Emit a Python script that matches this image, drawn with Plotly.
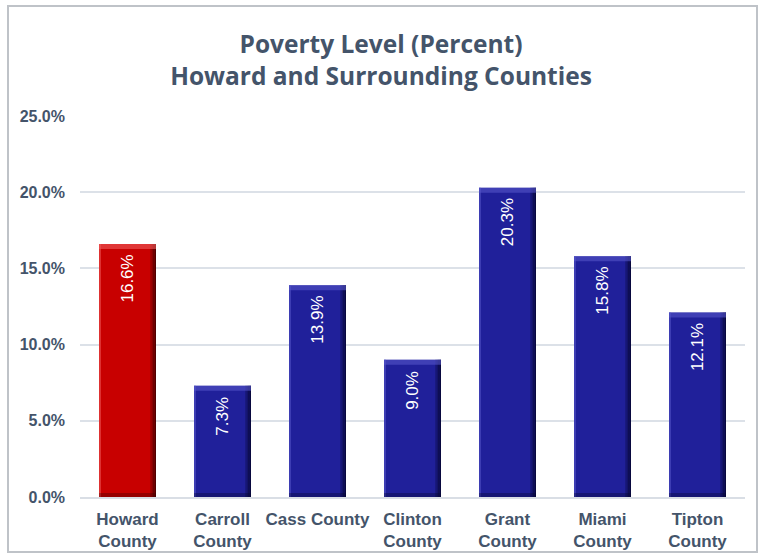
import plotly.graph_objects as go

counties = ["Howard<br>County", "Carroll<br>County", "Cass County", "Clinton<br>County",
            "Grant<br>County", "Miami<br>County", "Tipton<br>County"]
poverty = [16.6, 7.3, 13.9, 9.0, 20.3, 15.8, 12.1]
bar_colors = ["#C80000", "#20209A", "#20209A", "#20209A", "#20209A", "#20209A", "#20209A"]
tick_vals = [0, 5, 10, 15, 20, 25]
tick_text = ["0.0%", "5.0%", "10.0%", "15.0%", "20.0%", "25.0%"]

W, H = 762, 556
ML, MR, MT, MB = 80, 17, 116, 59
plot_w, plot_h = W - ML - MR, H - MT - MB
BAR_W = 0.6
px_x = 7 / plot_w          # one pixel in category units
px_y = 25 / plot_h         # one pixel in percent units

fig = go.Figure()
fig.add_trace(go.Bar(
    x=list(range(len(counties))), y=poverty,
    marker=dict(color=bar_colors, line=dict(width=0)),
    width=BAR_W,
    hoverinfo="skip",
))

# bevelled edges on every bar
for i, v in enumerate(poverty):
    red = i == 0
    dark = "#3A0000" if red else "#05052E"
    light = "#F05A5A" if red else "#5555C8"
    x0, x1 = i - BAR_W / 2, i + BAR_W / 2
    # right edge shading, darkening outward
    for k, op in enumerate([0.25, 0.45, 0.65, 0.85]):
        fig.add_shape(type="rect", xref="x", yref="y",
                      x0=x1 - (4 - k) * 1.5 * px_x, x1=x1 - (3 - k) * 1.5 * px_x,
                      y0=0, y1=v, fillcolor=dark, opacity=op, line_width=0, layer="above")
    # left edge highlight
    fig.add_shape(type="rect", xref="x", yref="y", x0=x0, x1=x0 + 2 * px_x, y0=0, y1=v,
                  fillcolor=light, opacity=0.55, line_width=0, layer="above")
    # top bevel
    fig.add_shape(type="rect", xref="x", yref="y", x0=x0, x1=x1, y0=v - 5 * px_y, y1=v,
                  fillcolor=light, opacity=0.6, line_width=0, layer="above")
    # bottom bevel
    fig.add_shape(type="rect", xref="x", yref="y", x0=x0, x1=x1, y0=0, y1=4 * px_y,
                  fillcolor=dark, opacity=0.35, line_width=0, layer="above")
    # value label
    fig.add_annotation(x=i, y=v, xref="x", yref="y", text=f"{v:.1f}%",
                       showarrow=False, textangle=-90, yanchor="top", xanchor="center",
                       yshift=-9,
                       font=dict(family="Liberation Sans, Arial", size=17, color="white"))

# outer frame
fig.add_shape(type="rect", xref="paper", yref="paper",
              x0=-72 / plot_w, x1=1 + 12 / plot_w, y0=-55 / plot_h, y1=1 + 110 / plot_h,
              line=dict(color="#BFC3C8", width=2), fillcolor="rgba(0,0,0,0)", layer="below")

fig.update_layout(
    width=W, height=H,
    margin=dict(l=ML, r=MR, t=MT, b=MB, autoexpand=False),
    paper_bgcolor="white", plot_bgcolor="white",
    showlegend=False,
    bargap=0.4,
    title=dict(
        text="Poverty Level (Percent)<br>Howard and Surrounding Counties",
        x=0.5, xanchor="center", y=1 - 53 / H, yanchor="middle",
        font=dict(family="Open Sans, Lato", size=24.5, color="#44546A", weight="bold"),
    ),
    xaxis=dict(
        tickmode="array", tickvals=list(range(len(counties))), ticktext=counties,
        showgrid=False, showline=True, linecolor="#D9DEE5", linewidth=1.5,
        ticks="", ticklabelstandoff=6, automargin=False,
        tickfont=dict(family="Liberation Sans Narrow, Arial", size=17, color="#44546A", weight="bold"),
        range=[-0.5, len(counties) - 0.5],
    ),
    yaxis=dict(
        range=[0, 25], tickvals=tick_vals, ticktext=tick_text,
        showgrid=True, gridcolor="#DCE1E8", gridwidth=1.5, zeroline=False,
        ticks="", ticklabelstandoff=14, automargin=False,
        tickfont=dict(family="Liberation Sans Narrow, Arial", size=16, color="#44546A", weight="bold"),
    ),
)

fig.write_html("out.html")
